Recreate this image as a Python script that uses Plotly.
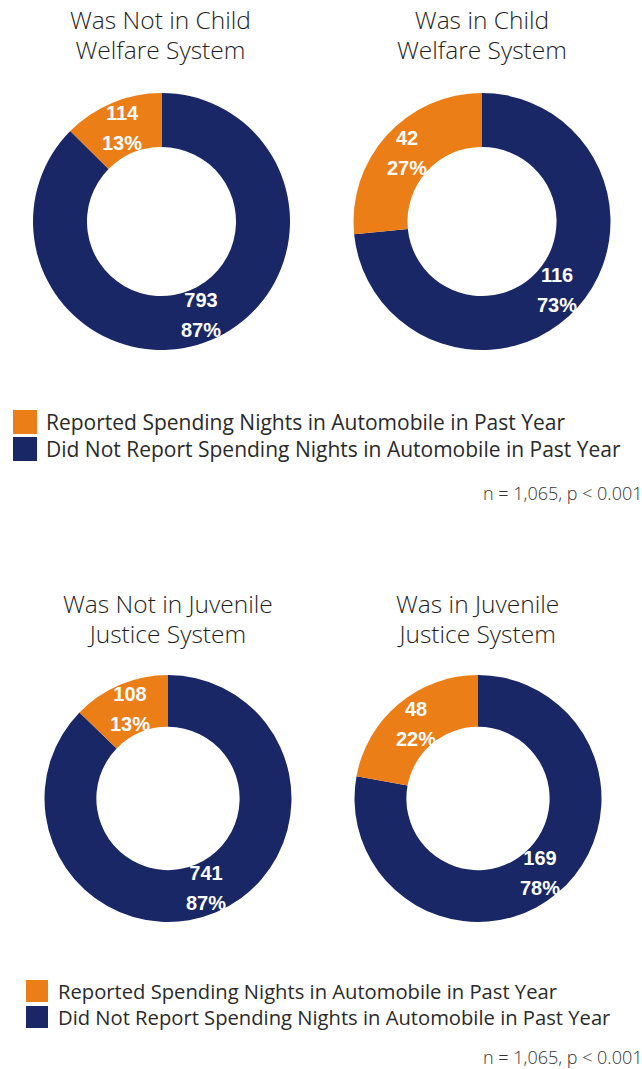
import math
import plotly.graph_objects as go

# Response categories (legend order) and colours
categories = [
    "Reported Spending Nights in Automobile in Past Year",
    "Did Not Report Spending Nights in Automobile in Past Year",
]
colors = ["#EC7E18", "#1A2766"]

# Child welfare panel
welfare_groups = ["Was Not in Child<br>Welfare System", "Was in Child<br>Welfare System"]
welfare_reported = [114, 42]
welfare_not_reported = [793, 116]

# Juvenile justice panel
justice_groups = ["Was Not in Juvenile<br>Justice System", "Was in Juvenile<br>Justice System"]
justice_reported = [108, 48]
justice_not_reported = [741, 169]

footnote = "n = 1,065, p < 0.001"

W, H = 642, 1069
HOLE = 0.58
TEXT_FONT = "Open Sans"
LABEL_FONT = "Liberation Sans, Arial, sans-serif"


def px_x(x):
    return x / W


def px_y(y):
    return 1 - y / H


fig = go.Figure()
annotations = []
shapes = []

# donut boxes in pixels: (left, top, diameter)
welfare_boxes = [(33, 93, 257), (353.5, 93, 257)]
justice_boxes = [(44.5, 675, 247), (354.5, 675, 247)]

panels = [
    (welfare_groups, welfare_reported, welfare_not_reported, welfare_boxes),
    (justice_groups, justice_reported, justice_not_reported, justice_boxes),
]


def slice_label(value, share):
    # two-line value / percent label, 20px glyphs on a 30px line pitch
    return (f"<span style='font-size:20px'>{value}</span><br>"
            f"<span style='font-size:20px'>{share:.0f}%</span>")


for groups, rep, notrep, boxes in panels:
    for name, r, n, (left, top, d) in zip(groups, rep, notrep, boxes):
        values = [n, r]
        # the large slice runs clockwise from 12 o'clock, the small one closes the ring
        fig.add_trace(go.Pie(
            labels=categories[::-1],
            values=values,
            name=name.replace("<br>", " "),
            sort=False,
            direction="clockwise",
            rotation=0,
            hole=HOLE,
            marker=dict(colors=colors[::-1], line=dict(width=0)),
            textinfo="none",
            showlegend=False,
            hoverinfo="label+value+percent",
            domain=dict(x=[px_x(left), px_x(left + d)],
                        y=[px_y(top + d), px_y(top)]),
        ))

        # value labels at the middle of each slice, halfway across the ring
        cx, cy = left + d / 2, top + d / 2
        r_mid = d / 2 * (1 + HOLE) / 2
        total = sum(values)
        start = 0.0
        for v in values:
            frac = v / total
            mid = 2 * math.pi * (start + frac / 2)
            start += frac
            annotations.append(dict(
                text=slice_label(v, 100 * frac),
                x=px_x(cx + r_mid * math.sin(mid)),
                y=px_y(cy - r_mid * math.cos(mid)),
                xref="paper", yref="paper", xanchor="center", yanchor="middle",
                showarrow=False, align="center",
                font=dict(family=LABEL_FONT, size=23, color="white", weight="bold"),
            ))


def title_html(text, size):
    # title glyph size set per line, line pitch from the annotation font size
    return "<br>".join(
        f"<span style='font-size:{size}px'>{line}</span>" for line in text.split("<br>")
    )


# panel titles
title_pos = [(161, 34), (482, 34), (168, 618), (477, 618)]
for text, (cx, cy) in zip(welfare_groups + justice_groups, title_pos):
    annotations.append(dict(
        text=title_html(text, 24.5), x=px_x(cx), y=px_y(cy),
        xref="paper", yref="paper",
        xanchor="center", yanchor="middle", showarrow=False, align="center",
        font=dict(family=TEXT_FONT, size=23.2, color="#1e1e1e", weight=300),
    ))

# legends (one per panel) and footnotes
legend_layout = [
    # (square left, first row top, square size, row step, text left, font size, footnote y)
    (13, 410, 24, 27, 46, 21, 493),
    (26, 980, 22, 26, 58, 20.2, 1057),
]
for sq_left, row_top, size, step, text_left, fsize, foot_y in legend_layout:
    for i, (label, col) in enumerate(zip(categories, colors)):
        top = row_top + i * step
        shapes.append(dict(
            type="rect", xref="paper", yref="paper",
            x0=px_x(sq_left), x1=px_x(sq_left + size),
            y0=px_y(top + size), y1=px_y(top),
            fillcolor=col, line=dict(width=0),
        ))
        annotations.append(dict(
            text=label, x=px_x(text_left - 2), y=px_y(top + size / 2),
            xref="paper", yref="paper", xanchor="left", yanchor="middle",
            showarrow=False,
            font=dict(family=TEXT_FONT, size=fsize, color="#2a2a2a", weight=400),
        ))
    annotations.append(dict(
        text=footnote, x=px_x(645), y=px_y(foot_y), xref="paper", yref="paper",
        xanchor="right", yanchor="middle", showarrow=False,
        font=dict(family=TEXT_FONT, size=18, color="#333333", weight=300),
    ))

fig.update_layout(
    width=W, height=H,
    margin=dict(l=0, r=0, t=0, b=0),
    paper_bgcolor="white",
    plot_bgcolor="white",
    annotations=annotations,
    shapes=shapes,
)

fig.write_html("out.html")
